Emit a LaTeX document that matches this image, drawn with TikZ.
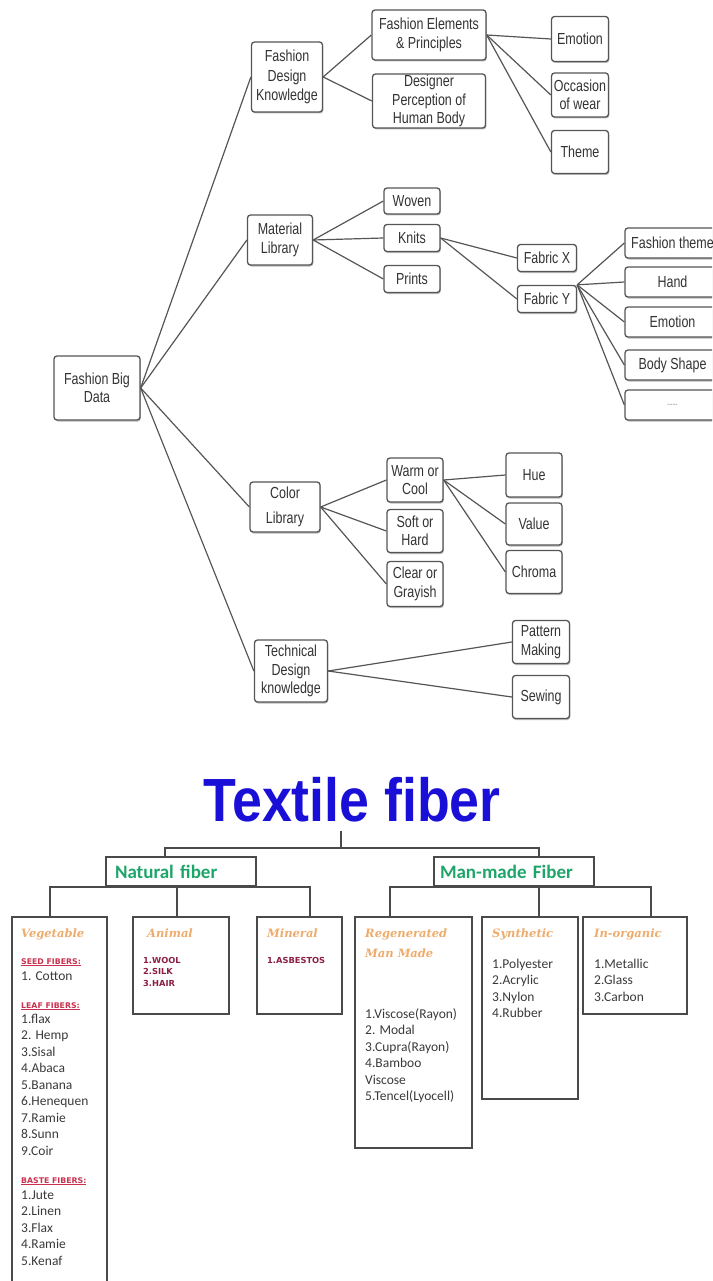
\documentclass[tikz,border=0pt]{standalone}
\usepackage{fontspec}
\usetikzlibrary{shadows}
\newfontfamily\narrowsans[FakeStretch=0.78]{Liberation Sans}
\newfontfamily\titlesans[FakeStretch=0.88]{Liberation Sans}
\newfontfamily\calsans{Carlito}
\newfontfamily\headserif{DejaVu Serif}
\newfontfamily\tinysans{DejaVu Sans}
\definecolor{linegray}{HTML}{555555}
\definecolor{textdark}{HTML}{333333}
\definecolor{boxgray}{HTML}{4A4A4A}
\definecolor{txtblue}{RGB}{25,15,215}
\definecolor{fibgreen}{RGB}{30,165,105}
\definecolor{headorange}{RGB}{238,172,108}
\definecolor{subred}{RGB}{200,50,80}
\definecolor{itemred}{RGB}{140,30,70}
\definecolor{listgray}{HTML}{3A3A3A}

\tikzset{
 mapbox/.style={draw=linegray, line width=1.3pt, rounded corners=3pt, fill=white,
   align=center, inner sep=1pt, text=textdark,
   font=\narrowsans\fontsize{16}{18.5}\selectfont,
   drop shadow={shadow xshift=0.8pt, shadow yshift=-1.5pt, fill=black!45, opacity=0.6}},
 sz/.style 2 args={minimum width=#1pt, minimum height=#2pt},
 mapline/.style={draw=linegray, line width=1.2pt},
 fibbox/.style={draw=boxgray, line width=1.8pt, fill=white},
 fibline/.style={draw=boxgray, line width=1.6pt},
 fibhead/.style={fibbox, align=left, text=fibgreen, inner ysep=0pt,
   font=\calsans\bfseries\fontsize{19}{21}\selectfont},
 head/.style={anchor=base west, inner sep=0pt, text=headorange,
   font=\headserif\bfseries\itshape\fontsize{11.5}{13}\selectfont},
 sub/.style={anchor=base west, inner sep=0pt, text=subred,
   font=\tinysans\bfseries\fontsize{7.8}{8}\selectfont},
 tiny/.style={anchor=base west, inner sep=0pt, text=itemred,
   font=\tinysans\bfseries\fontsize{8.3}{9}\selectfont},
 item/.style={anchor=base west, inner sep=0pt, text=listgray,
   font=\calsans\fontsize{13.5}{16}\selectfont}
}

\begin{document}
\begin{tikzpicture}[x=1pt,y=-1pt]
\useasboundingbox (0,0) rectangle (712,1281);
\clip (0,0) rectangle (712,1281);

% fashion big data map
\node[mapbox,sz={86}{64}] (fbd) at (97,388) {Fashion Big\\Data};
\node[mapbox,sz={71}{70},font=\narrowsans\fontsize{16}{19.5}\selectfont] (fdk) at (287,77) {Fashion\\Design\\Knowledge};
\node[mapbox,sz={65}{50}] (mlib) at (280,240) {Material\\Library};
\node[mapbox,sz={70}{50}] (clib) at (285,507) {Color\\[7pt]Library};
\node[mapbox,sz={73}{62}] (tdk) at (291,671) {Technical\\Design\\knowledge};

\node[mapbox,sz={114}{50}] (fep) at (429,35) {Fashion Elements\\\& Principles};
\node[mapbox,sz={113}{54},inner sep=0pt] (dph) at (429,101) {Designer\\Perception of\\Human Body};
\node[mapbox,sz={57}{45}] (emo1) at (580,39) {Emotion};
\node[mapbox,sz={57}{44}] (occ) at (580,95) {Occasion\\of wear};
\node[mapbox,sz={57}{43}] (thm) at (580,152) {Theme};

\node[mapbox,sz={56}{26}] (wov) at (412,201) {Woven};
\node[mapbox,sz={56}{27}] (kni) at (412,238) {Knits};
\node[mapbox,sz={56}{27}] (prn) at (412,279) {Prints};
\node[mapbox,sz={59}{27}] (fbx) at (547,258) {Fabric X};
\node[mapbox,sz={59}{27}] (fby) at (547,299) {Fabric Y};
\node[mapbox,sz={95}{30}] (fth) at (672.5,243) {Fashion theme};
\node[mapbox,sz={95}{30}] (hnd) at (672.5,282) {Hand};
\node[mapbox,sz={95}{30}] (emo2) at (672.5,322) {Emotion};
\node[mapbox,sz={95}{30}] (bsh) at (672.5,365) {Body Shape};
\node[mapbox,sz={95}{30},text=gray!70,font=\narrowsans\fontsize{8}{9}\selectfont] (dts) at (672.5,405) {\textbf{......}};

\node[mapbox,sz={56}{44}] (wac) at (415,480) {Warm or\\Cool};
\node[mapbox,sz={56}{43}] (soh) at (415,531) {Soft or\\Hard};
\node[mapbox,sz={56}{45}] (clg) at (415,584) {Clear or\\Grayish};
\node[mapbox,sz={56}{44}] (hue) at (534,475) {Hue};
\node[mapbox,sz={56}{42}] (val) at (534,524) {Value};
\node[mapbox,sz={56}{43}] (chr) at (534,572) {Chroma};
\node[mapbox,sz={57}{43}] (pmk) at (541,642) {Pattern\\Making};
\node[mapbox,sz={57}{43}] (sew) at (541,697) {Sewing};

\foreach \t in {fdk,mlib,clib,tdk} \draw[mapline] (fbd.east) -- (\t.west);
\foreach \t in {fep,dph} \draw[mapline] (fdk.east) -- (\t.west);
\foreach \t in {emo1,occ,thm} \draw[mapline] (fep.east) -- (\t.west);
\foreach \t in {wov,kni,prn} \draw[mapline] (mlib.east) -- (\t.west);
\foreach \t in {fbx,fby} \draw[mapline] (kni.east) -- (\t.west);
\foreach \t in {fth,hnd,emo2,bsh,dts} \draw[mapline] (fby.north east) -- (\t.west);
\foreach \t in {wac,soh,clg} \draw[mapline] (clib.east) -- (\t.west);
\foreach \t in {hue,val,chr} \draw[mapline] (wac.east) -- (\t.west);
\foreach \t in {pmk,sew} \draw[mapline] (tdk.east) -- (\t.west);

% textile fiber tree
\node[text=txtblue, inner xsep=0pt, inner ysep=8pt,
  font=\titlesans\bfseries\fontsize{61}{61}\selectfont] (title) at (352,800) {Textile fiber};
\coordinate (bus) at (341,848);
\node[fibhead, text width=132pt, inner xsep=9pt, minimum height=29pt] (nat) at (181,871.5) {Natural fiber};
\node[fibhead, text width=148pt, inner xsep=6pt, minimum height=29pt] (man) at (514,871.5) {\mbox{Man-made Fiber}};
\draw[fibline] (title.south -| bus) -- (bus);
\draw[fibline] ([xshift=-16pt]nat.north) |- (bus) -| ([xshift=25pt]man.north);

\node[fibbox, minimum width=95pt, minimum height=378pt] (veg) at (59.5,1106) {};
\node[fibbox, minimum width=96pt, minimum height=97pt] (ani) at (181,965.5) {};
\node[fibbox, minimum width=85pt, minimum height=97pt] (mnl) at (299.5,965.5) {};
\node[fibbox, minimum width=117pt, minimum height=231pt] (rmm) at (413.5,1032.5) {};
\node[fibbox, minimum width=96pt, minimum height=182pt] (syn) at (530,1008) {};
\node[fibbox, minimum width=104pt, minimum height=97pt] (ino) at (635,965.5) {};

\draw[fibline] ([xshift=-9.5pt]veg.north) |- (nat.south) -| ([xshift=10.5pt]mnl.north);
\draw[fibline] ([xshift=-4pt]ani.north) -- ([xshift=-4pt]ani.north |- nat.south);
\draw[fibline] ([xshift=-23.5pt]rmm.north) |- (man.south) -| ([xshift=16pt]ino.north);
\draw[fibline] ([xshift=9pt]syn.north) -- ([xshift=9pt]syn.north |- man.south);

% vegetable
\node[head] (vegh) at (21,937) {Vegetable};
\node[sub] (seedh) at (21,964) {\underline{SEED FIBERS:}};
\node[item] (seed0) at (21,980) {1. Cotton};
\node[sub] (leafh) at (21,1008) {\underline{LEAF FIBERS:}};
\foreach \t [count=\i from 0] in {1.flax, 2. Hemp, 3.Sisal, 4.Abaca, 5.Banana, 6.Henequen, 7.Ramie, 8.Sunn, 9.Coir}
  \node[item] (leaf\i) at (21,1023+16.5*\i) {\t};
\node[sub] (basteh) at (21,1183) {\underline{BASTE FIBERS:}};
\foreach \t [count=\i from 0] in {1.Jute, 2.Linen, 3.Flax, 4.Ramie, 5.Kenaf}
  \node[item] (baste\i) at (21,1199+16.5*\i) {\t};

% animal, mineral
\node[head] (anih) at (147,937) {Animal};
\foreach \t [count=\i from 0] in {1.WOOL, 2.SILK, 3.HAIR}
  \node[tiny] (ani\i) at (143,963+11.5*\i) {\t};
\node[head] (mnlh) at (267,937) {Mineral};
\node[tiny] (mnl0) at (267,963) {1.ASBESTOS};

% man-made
\node[head] (rmmh) at (365,937) {Regenerated};
\node[head] (rmmh2) at (365,957) {Man Made};
\foreach \t [count=\i from 0] in {1.Viscose(Rayon), 2. Modal, 3.Cupra(Rayon), 4.Bamboo, Viscose, 5.Tencel(Lyocell)}
  \node[item] (rmm\i) at (365,1018+16.5*\i) {\t};
\node[head] (synh) at (492,937) {Synthetic};
\foreach \t [count=\i from 0] in {1.Polyester, 2.Acrylic, 3.Nylon, 4.Rubber}
  \node[item] (syn\i) at (492,968+16.5*\i) {\t};
\node[head] (inoh) at (594,937) {In-organic};
\foreach \t [count=\i from 0] in {1.Metallic, 2.Glass, 3.Carbon}
  \node[item] (ino\i) at (594,968+16.5*\i) {\t};
\end{tikzpicture}
\end{document}
